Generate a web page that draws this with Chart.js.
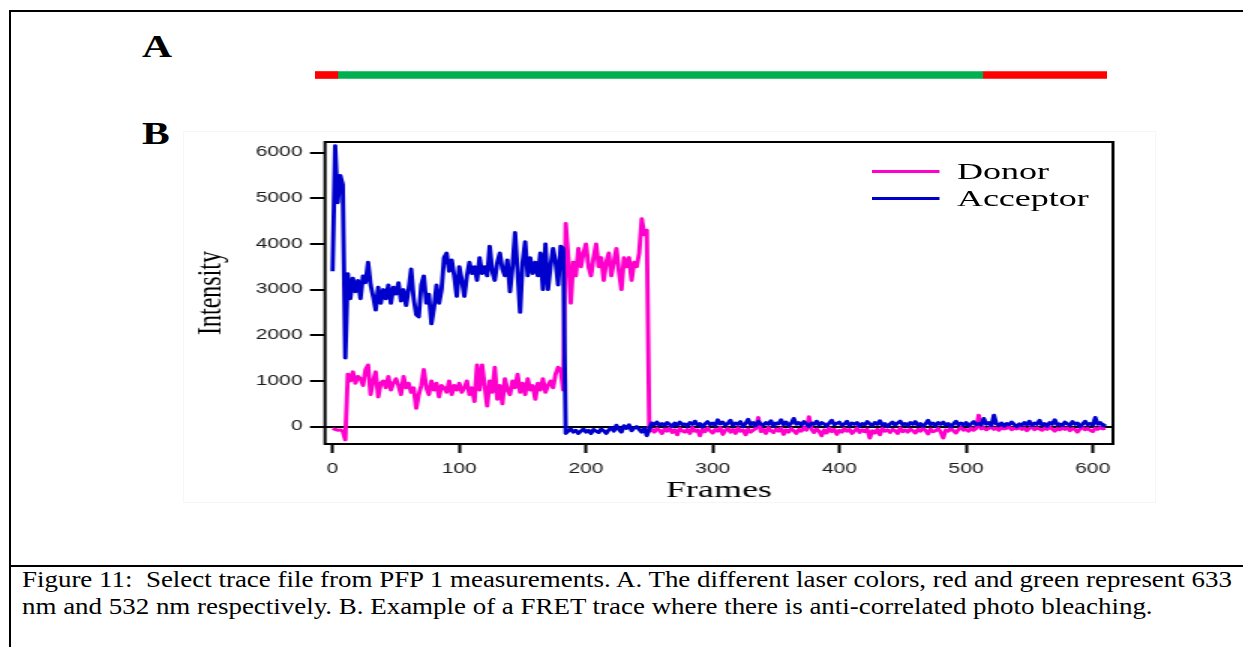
<!DOCTYPE html>
<html>
<head>
<meta charset="utf-8">
<title>Figure 11</title>
<script src="https://cdn.jsdelivr.net/npm/chart.js@4.4.1/dist/chart.umd.min.js"></script>
<style>
  html, body { margin: 0; padding: 0; background: #fff; }
  body { width: 1243px; height: 647px; position: relative; overflow: hidden; font-family: "Liberation Serif", "Times New Roman", serif; color: #000; }
  .rule { position: absolute; background: #000; }
  .panel { position: absolute; left: 142px; font-weight: bold; font-size: 32px; line-height: 32px; transform: scaleX(1.3); transform-origin: 0 0; }
  #laserBox { position: absolute; left: 315px; top: 65px; width: 792px; height: 20px; }
  #imgEdge { position: absolute; left: 183px; top: 131px; width: 971px; height: 370px; border: 1px solid #f6f6f6; }
  #plotBox { position: absolute; left: 180px; top: 135px; width: 630px; height: 380px; transform: scaleX(1.5); transform-origin: 0 0; }
  #legend { position: absolute; left: 872px; top: 158px; transform: scaleX(1.5); transform-origin: 0 0; font-size: 24px; }
  #legend .row { display: flex; align-items: center; height: 27px; }
  #legend .swatch { width: 45.3px; height: 3px; margin-right: 11.3px; }
  #caption { position: absolute; left: 22px; top: 566px; font-size: 24px; line-height: 27px; white-space: pre; transform: scaleX(1.122); transform-origin: 0 0; }
</style>
</head>
<body>
<div class="rule" style="left:9px;top:10px;width:1234px;height:2px"></div>
<div class="rule" style="left:9px;top:10px;width:2px;height:637px"></div>
<div class="rule" style="left:9px;top:565px;width:1234px;height:2px"></div>

<div class="panel" style="top:30px">A</div>
<div class="panel" style="top:117px">B</div>

<div id="laserBox"><canvas id="laser" width="792" height="20"></canvas></div>
<div id="imgEdge"></div>
<div id="plotBox"><canvas id="trace" width="630" height="380"></canvas></div>
<div id="legend"></div>

<div id="caption">Figure 11:  Select trace file from PFP 1 measurements. A. The different laser colors, red and green represent 633
nm and 532 nm respectively. B. Example of a FRET trace where there is anti-correlated photo bleaching.</div>

<script>
//LASER TIMELINE (frames)
const laserStart = [-14, 4, 513];
const laserEnd = [4, 513, 611];
const laserColor = ['#ff0000', '#00b050', '#ff0000'];

//AXIS TICKS
const xTicks = [0, 100, 200, 300, 400, 500, 600];
const yTicks = [0, 1000, 2000, 3000, 4000, 5000, 6000];

//TRACES, one value every 2 frames starting at frame 0
const frameStep = 2;
const donor = [
  -40, -60, -80, -70, -100, -290, 1150, 1000, 1200, 950,
  1100, 1050, 900, 1250, 1350, 700, 1000, 1200, 650, 950,
  1000, 850, 1100, 800, 950, 1050, 900, 700, 1100, 850,
  950, 750, 850, 400, 700, 900, 1250, 850, 700, 1000,
  800, 950, 650, 900, 850, 750, 1000, 700, 900, 800,
  950, 750, 850, 1000, 700, 850, 550, 1350, 800, 1350,
  900, 450, 1000, 750, 1300, 600, 900, 500, 1050, 800,
  700, 1000, 850, 1150, 750, 950, 700, 1050, 800, 900,
  600, 950, 800, 1050, 750, 900, 1000, 850, 1150, 1300,
  1250, 800, 4450, 3700, 2700, 3600, 3300, 3900, 3500, 3800,
  4000, 3500, 3300, 3700, 4000, 3500, 3700, 3200, 3600, 3800,
  3300, 3600, 3900, 3400, 3000, 3700, 3500, 3700, 3200, 3600,
  3500, 3800, 4550, 4200, 4300, -100, -60, -120, -40, -80,
  -150, -50, -100, -30, -130, -70, -180, -40, -90, -120,
  -60, -150, -20, -100, -70, -200, -50, -110, -30, -90,
  -140, -60, -100, -20, -170, -80, -40, -120, -60, -150,
  -30, -100, -70, -180, -50, -120, -80, -40, 200, -110,
  -60, -150, -20, -90, -130, -50, -100, -30, -170, -70,
  -120, -40, -90, -150, -60, -100, -20, -80, 220, -60,
  -130, -50, -100, -200, -70, -140, -30, -110, -60, -170,
  -80, -120, -40, -100, -60, -150, -90, -30, -130, -70,
  -110, -50, -250, -90, -140, -60, -180, -40, -100, -70,
  -130, -60, -90, -150, -30, -110, -70, -120, -50, -90,
  -140, -60, -100, -30, -80, -160, -50, -110, -90, -40,
  -120, -250, -70, -100, -30, -90, -140, -60, -20, -80,
  -60, -100, -30, -80, -40, 250, -50, -20, -70, -40,
  -10, -60, -30, -80, -20, -50, -40, -10, -70, -30,
  -50, -20, -60, -30, -90, -40, -10, -70, -30, -50,
  -80, -30, -60, -10, -50, -100, -40, -70, -20, -60,
  -30, -90, -40, -60, -120, -50, -20, -70, -40, -80,
  -110, -30, -60, -20, -50, -40
];
const acceptor = [
  3400, 6150, 4900, 5500, 5300, 1500, 3350, 2800, 3250, 2950,
  3200, 2800, 3300, 3150, 3600, 3100, 2850, 2550, 3050, 2700,
  3000, 2800, 3100, 2700, 3050, 2900, 3150, 2750, 3000, 2650,
  3000, 3450, 2800, 2450, 2400, 3100, 3300, 2700, 2900, 2250,
  2600, 3100, 2700, 3000, 3700, 3800, 3400, 3650, 3300, 2850,
  3500, 3200, 2850, 3300, 3600, 3350, 3500, 3200, 3700, 3350,
  3500, 3300, 3950, 3400, 3200, 3600, 3800, 3450, 3300, 3650,
  2950, 3500, 4250, 3400, 2500, 3600, 4050, 3300, 3700, 3350,
  3600, 3300, 3800, 3000, 4000, 3000, 3500, 3900, 3600, 3100,
  3950, 3900, -150, -100, -50, -120, -80, -150, -100, -50,
  -120, -80, -150, -60, -100, -130, -50, -90, -150, -70,
  -20, -100, 30, -60, -120, 20, -40, 40, -90, -30,
  0, -60, -120, -30, -200, -50, 80, 40, 100, 30,
  70, 20, 90, 50, 0, 80, 30, 100, 40, 60,
  10, 90, 50, 120, 30, 70, -10, 60, 110, 40,
  80, 20, 150, 60, 100, 30, 70, 140, 20, 80,
  50, 110, 0, 70, 160, 40, 90, 20, 120, 60,
  30, 90, 50, 130, 10, 80, 60, 150, 40, 100,
  20, 70, 180, 50, 90, 30, 110, 60, 0, 80,
  50, 120, 30, 90, 60, 10, 80, 140, 40, 70,
  100, 30, 60, 120, 20, 80, 50, 90, 10, 70,
  40, 110, 60, 20, 90, 50, 130, 30, 70, 0,
  60, 100, 30, 80, 120, 40, 70, 20, 90, 50,
  110, 30, 70, 10, 60, 140, 40, 80, 20, 90,
  50, 100, 30, 70, 0, 60, 120, 40, 80, 30,
  90, 20, 60, 110, 40, 70, 30, 180, 50, 90,
  20, 250, 60, 30, 80, 10, 70, 40, 100, 50,
  0, 60, 30, 90, 40, 120, 20, 80, 50, 140,
  30, 70, 10, 90, 50, 150, 40, 60, 20, 100,
  60, 30, 110, 50, 80, 0, 60, 120, 40, 70,
  30, 200, 50, 90, 20, 60
];
const frames = acceptor.map((v, i) => i * frameStep);

const seriesNames = ['Donor', 'Acceptor'];
const seriesColors = ['#ff00cc', '#0000cc'];

//LEGEND
const legend = document.getElementById('legend');
seriesNames.forEach((name, i) => {
    let row = document.createElement('div');
    row.className = 'row';
    let sw = document.createElement('span');
    sw.className = 'swatch';
    sw.style.background = seriesColors[i];
    let txt = document.createElement('span');
    txt.textContent = name;
    row.appendChild(sw);
    row.appendChild(txt);
    legend.appendChild(row);
});

//BOX AROUND THE PLOT
const frameBox = {
    id: 'frameBox',
    afterDraw(chart) {
        const {ctx, chartArea: a} = chart;
        ctx.save();
        ctx.strokeStyle = '#000';
        ctx.lineWidth = 2;
        ctx.strokeRect(a.left, a.top, a.right - a.left, a.bottom - a.top);
        ctx.restore();
    }
};

Chart.defaults.font.family = '"Liberation Sans", Arial, sans-serif';

//LASER BAR
new Chart(document.getElementById('laser'), {
    type: 'bar',
    data: {
        labels: ['laser'],
        datasets: laserStart.map((s, i) => ({
            data: [[s, laserEnd[i]]],
            backgroundColor: laserColor[i],
            borderWidth: 0,
            barThickness: 7,
            grouped: false,
        })),
    },
    options: {
        indexAxis: 'y',
        responsive: false,
        animation: false,
        layout: { padding: 0 },
        scales: {
            x: { type: 'linear', min: -14, max: 611, display: false },
            y: { display: false },
        },
        plugins: { legend: { display: false }, tooltip: { enabled: false } },
    }
});

//TRACE
new Chart(document.getElementById('trace'), {
    type: 'line',
    plugins: [frameBox],
    data: {
        labels: frames,
        datasets: [
            { label: seriesNames[0], data: donor, borderColor: seriesColors[0], order: 2 },
            { label: seriesNames[1], data: acceptor, borderColor: seriesColors[1], order: 1 },
        ],
    },
    options: {
        responsive: false,
        animation: false,
        layout: { padding: { left: 0, top: 7, right: 8, bottom: 0 } },
        elements: {
            point: { radius: 0 },
            line: { borderWidth: 2.9, tension: 0, borderJoinStyle: 'round', fill: false },
        },
        scales: {
            x: {
                type: 'linear',
                min: -6,
                max: 616,
                afterBuildTicks: s => { s.ticks = xTicks.map(v => ({ value: v })); },
                ticks: { padding: 8, maxRotation: 0, autoSkip: false, color: '#1a1a1a', font: { size: 14 }, callback: v => String(v) },
                grid: { drawOnChartArea: false, tickColor: '#000', tickWidth: 2, tickLength: 9 },
                border: { display: false },
                title: { display: true, text: 'Frames', color: '#000', font: { family: '"Liberation Serif", serif', size: 24 }, padding: { top: 0, bottom: 10 } },
                afterFit: s => { s.height = 71; s.paddingLeft = 0; s.paddingRight = 0; },
            },
            y: {
                min: -380,
                max: 6230,
                afterBuildTicks: s => { s.ticks = yTicks.map(v => ({ value: v })); },
                ticks: { padding: 5, autoSkip: false, color: '#1a1a1a', font: { size: 14 }, callback: v => String(v) },
                grid: {
                    color: c => (c.tick && c.tick.value === 0) ? '#000' : 'rgba(0,0,0,0)',
                    lineWidth: 2, tickColor: '#000', tickWidth: 2, tickLength: 10,
                },
                border: { display: false },
                title: { display: true, text: 'Intensity', color: '#000', font: { family: '"Liberation Serif", serif', size: 24 }, padding: { top: 6, bottom: 0 } },
                afterFit: s => { s.width = 96.67; s.paddingTop = 0; s.paddingBottom = 0; },
            },
        },
        plugins: { legend: { display: false }, tooltip: { enabled: false } },
    }
});
</script>
</body>
</html>
